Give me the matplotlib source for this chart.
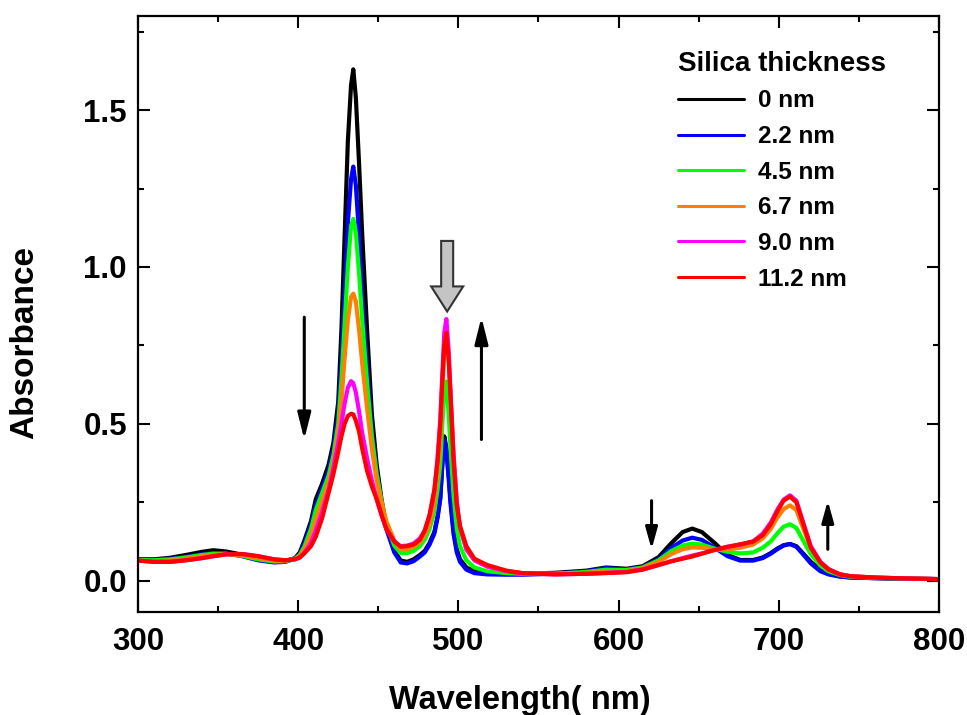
import matplotlib
matplotlib.use('Agg')
import matplotlib.pyplot as plt
from matplotlib.patches import FancyArrow
from matplotlib.ticker import MultipleLocator

plt.rcParams['font.family'] = ['Liberation Sans', 'DejaVu Sans']
plt.rcParams['font.weight'] = 'bold'

# wavelength grid (nm)
wl = [300, 310, 320, 330, 340, 347, 355, 365, 375, 385, 392, 398, 401,
      404, 408, 411, 415, 419, 422, 425, 427, 429, 431, 433, 434.4, 436, 438, 440, 443, 446, 449, 452, 455, 460, 464,
      468, 472, 476, 479, 482, 485, 487, 488.7, 490, 491.2, 492.5, 494, 495, 497, 499, 501, 505, 510, 518, 530,
      540, 560, 580, 592, 605, 615, 625, 633, 640, 646, 652, 660, 668, 676, 684, 690, 695, 699, 703, 707, 711, 715,
      720, 726, 731, 738, 745, 760, 780, 800]

abs_0nm = [0.068, 0.068, 0.073, 0.082, 0.092, 0.097, 0.093, 0.083, 0.072, 0.064, 0.063, 0.072, 0.09,
           0.13, 0.19, 0.26, 0.31, 0.37, 0.44, 0.57, 0.8, 1.1, 1.4, 1.58, 1.63, 1.54, 1.33, 1.1, 0.8, 0.53, 0.37, 0.26, 0.175, 0.095, 0.064,
           0.06, 0.068, 0.082, 0.095, 0.12, 0.155, 0.205, 0.265, 0.375, 0.46, 0.425, 0.335, 0.265, 0.16, 0.1, 0.068, 0.042, 0.03, 0.025, 0.022,
           0.022, 0.025, 0.032, 0.042, 0.038, 0.046, 0.075, 0.12, 0.155, 0.166, 0.155, 0.12, 0.082, 0.066, 0.066, 0.074, 0.088, 0.102, 0.113, 0.117, 0.11, 0.088,
           0.06, 0.034, 0.022, 0.014, 0.01, 0.008, 0.006, 0.005]

abs_2_2nm = [0.068, 0.067, 0.07, 0.076, 0.084, 0.088, 0.087, 0.078, 0.065, 0.058, 0.06, 0.07, 0.085,
             0.12, 0.18, 0.24, 0.295, 0.35, 0.42, 0.53, 0.7, 0.92, 1.14, 1.28, 1.32, 1.26, 1.1, 0.9, 0.68, 0.48, 0.35, 0.25, 0.165, 0.09, 0.058,
             0.055, 0.062, 0.077, 0.09, 0.115, 0.15, 0.2, 0.26, 0.37, 0.45, 0.415, 0.32, 0.25, 0.148, 0.09, 0.06, 0.035, 0.024, 0.02, 0.019,
             0.019, 0.022, 0.03, 0.04, 0.036, 0.043, 0.068, 0.105, 0.128, 0.137, 0.13, 0.105, 0.078, 0.064, 0.064, 0.072, 0.086, 0.1, 0.112, 0.117, 0.108, 0.085,
             0.055, 0.03, 0.02, 0.013, 0.01, 0.008, 0.006, 0.005]

abs_4_5nm = [0.066, 0.065, 0.068, 0.074, 0.082, 0.086, 0.086, 0.079, 0.068, 0.061, 0.062, 0.07, 0.082,
             0.11, 0.165, 0.225, 0.28, 0.335, 0.4, 0.5, 0.64, 0.82, 1.0, 1.13, 1.153, 1.11, 0.98, 0.83, 0.63, 0.46, 0.34, 0.255, 0.18, 0.112, 0.088,
             0.088, 0.095, 0.11, 0.13, 0.165, 0.22, 0.29, 0.37, 0.5, 0.61, 0.635, 0.53, 0.43, 0.27, 0.165, 0.11, 0.065, 0.042, 0.03, 0.024,
             0.022, 0.022, 0.028, 0.035, 0.034, 0.042, 0.065, 0.095, 0.112, 0.118, 0.115, 0.102, 0.092, 0.087, 0.09, 0.105, 0.125, 0.15, 0.172, 0.18, 0.168, 0.13,
             0.085, 0.048, 0.03, 0.018, 0.012, 0.009, 0.007, 0.005]

abs_6_7nm = [0.064, 0.062, 0.064, 0.07, 0.078, 0.082, 0.085, 0.081, 0.072, 0.064, 0.063, 0.069, 0.078,
             0.1, 0.145, 0.195, 0.255, 0.315, 0.375, 0.47, 0.57, 0.71, 0.83, 0.905, 0.915, 0.89, 0.8, 0.69, 0.55, 0.42, 0.32, 0.25, 0.19, 0.128, 0.1,
             0.1, 0.108, 0.122, 0.145, 0.18, 0.25, 0.34, 0.45, 0.6, 0.74, 0.8, 0.7, 0.6, 0.4, 0.25, 0.17, 0.1, 0.065, 0.045, 0.03,
             0.024, 0.022, 0.025, 0.03, 0.03, 0.04, 0.06, 0.085, 0.1, 0.106, 0.105, 0.1, 0.1, 0.105, 0.115, 0.135, 0.165, 0.2, 0.228, 0.24, 0.225, 0.17,
             0.105, 0.058, 0.036, 0.02, 0.014, 0.01, 0.007, 0.005]

abs_9_0nm = [0.064, 0.06, 0.06, 0.065, 0.072, 0.078, 0.084, 0.085, 0.078, 0.068, 0.065, 0.068, 0.074,
             0.09, 0.12, 0.16, 0.22, 0.29, 0.36, 0.44, 0.5, 0.565, 0.615, 0.636, 0.63, 0.6, 0.54, 0.47, 0.39, 0.32, 0.26, 0.21, 0.165, 0.125, 0.11,
             0.112, 0.118, 0.135, 0.16, 0.205, 0.285, 0.39, 0.51, 0.66, 0.79, 0.834, 0.73, 0.61, 0.4, 0.25, 0.17, 0.1, 0.065, 0.045, 0.03,
             0.024, 0.02, 0.022, 0.025, 0.028, 0.036, 0.05, 0.062, 0.072, 0.08, 0.087, 0.098, 0.108, 0.115, 0.125, 0.15, 0.185, 0.225, 0.258, 0.272, 0.255, 0.19,
             0.11, 0.06, 0.037, 0.021, 0.014, 0.01, 0.007, 0.005]

abs_11_2nm = [0.064, 0.06, 0.06, 0.065, 0.072, 0.078, 0.084, 0.085, 0.078, 0.068, 0.065, 0.068, 0.074,
              0.088, 0.11, 0.14, 0.2, 0.28, 0.34, 0.41, 0.46, 0.5, 0.525, 0.532, 0.53, 0.51, 0.475, 0.42, 0.35, 0.3, 0.26, 0.21, 0.165, 0.125, 0.108,
              0.11, 0.115, 0.13, 0.16, 0.21, 0.29, 0.38, 0.5, 0.64, 0.75, 0.79, 0.7, 0.6, 0.38, 0.24, 0.175, 0.11, 0.07, 0.05, 0.032,
              0.024, 0.02, 0.022, 0.024, 0.027, 0.035, 0.05, 0.062, 0.07, 0.077, 0.086, 0.098, 0.108, 0.116, 0.125, 0.145, 0.18, 0.22, 0.255, 0.268, 0.25, 0.185,
              0.105, 0.058, 0.036, 0.02, 0.014, 0.01, 0.007, 0.005]

series = [abs_0nm, abs_2_2nm, abs_4_5nm, abs_6_7nm, abs_9_0nm, abs_11_2nm]
labels = ['0 nm', '2.2 nm', '4.5 nm', '6.7 nm', '9.0 nm', '11.2 nm']
colors = ['#000000', '#0000ff', '#00ff00', '#ff8000', '#ff00ff', '#ff0000']

fig = plt.figure(figsize=(9.67, 7.15), dpi=100)
ax = fig.add_axes([0.1427, 0.144, 0.8283, 0.8336])

for y, lab, c in zip(series, labels, colors):
    ax.plot(wl, y, color=c, lw=3.0, label=lab, solid_joinstyle='round', solid_capstyle='round')

ax.set_xlim(300, 800)
ax.set_ylim(-0.1, 1.8)
ax.xaxis.set_major_locator(MultipleLocator(100))
ax.xaxis.set_minor_locator(MultipleLocator(50))
ax.yaxis.set_major_locator(MultipleLocator(0.5))
ax.yaxis.set_minor_locator(MultipleLocator(0.25))
ax.tick_params(which='both', direction='in', top=True, right=True, width=1.5)
ax.tick_params(which='major', length=8.5, labelsize=22.5)
ax.tick_params(axis='x', which='major', pad=11)
ax.tick_params(axis='y', which='major', pad=8)
ax.tick_params(which='minor', length=4.5)
for s in ax.spines.values():
    s.set_linewidth(1.6)

ax.set_xlabel('Wavelength( nm)', fontsize=23.5, fontweight='bold')
ax.set_ylabel('Absorbance', fontsize=24, fontweight='bold')
ax.xaxis.set_label_coords(0.477, -0.122)
ax.yaxis.set_label_coords(-0.1225, 0.453)

leg = ax.legend(loc='upper left', bbox_to_anchor=(0.662, 0.958), frameon=False,
                title='Silica thickness', title_fontsize=20, alignment='left',
                prop={'size': 17.5, 'weight': 'bold'}, handlelength=2.7, handletextpad=0.6,
                labelspacing=0.52, borderaxespad=0)
leg.get_title().set_fontweight('bold')
for ln in leg.get_lines():
    ln.set_linewidth(2.2)

# trend arrows
arr = dict(arrowstyle='-|>,head_length=0.8,head_width=0.2', lw=2.2, color='black',
           mutation_scale=20, shrinkA=0, shrinkB=0)
small = dict(arr, arrowstyle='-|>,head_length=0.65,head_width=0.18')
ax.annotate('', xy=(403.8, 0.45), xytext=(403.8, 0.84), arrowprops=arr)
ax.annotate('', xy=(514.4, 0.84), xytext=(514.4, 0.45), arrowprops=arr)
ax.annotate('', xy=(620.6, 0.10), xytext=(620.6, 0.255), arrowprops=small)
ax.annotate('', xy=(730.6, 0.255), xytext=(730.6, 0.10), arrowprops=small)
ax.add_patch(FancyArrow(493, 1.083, 0, -0.225, width=7.5, head_width=20, head_length=0.08,
                        length_includes_head=True, fc='#c4c4c4', ec='#333333', lw=1.5))

fig.savefig('out.png', dpi=100)
